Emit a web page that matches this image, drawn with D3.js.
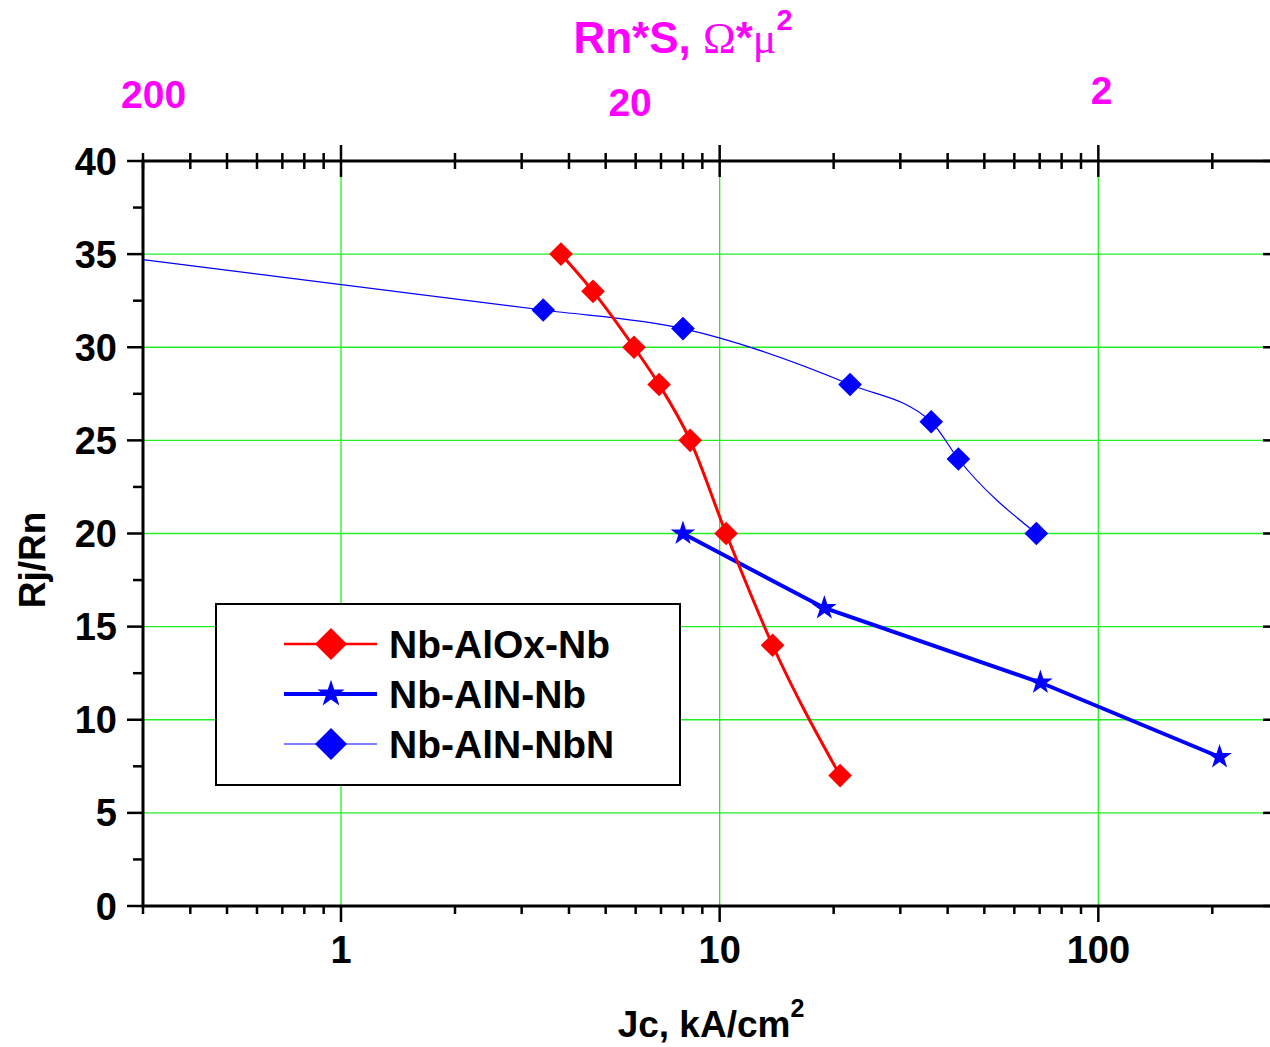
<!DOCTYPE html>
<html>
<head>
<meta charset="utf-8">
<script src="https://cdn.jsdelivr.net/npm/d3@7"></script>
<style>
  html, body { margin: 0; padding: 0; background: #fff; }
  svg { display: block; }
  text { font-family: "Liberation Sans", Arial, sans-serif; font-weight: bold; }
</style>
</head>
<body>
<svg id="chart" width="1270" height="1047"></svg>
<script>
// ---- data ----
const jcAlOx = [3.81, 4.63, 5.94, 6.92, 8.36, 10.4, 13.8, 20.8];
const rAlOx  = [35, 33, 30, 28, 25, 20, 14, 7];

const jcAlN  = [8.0, 18.9, 70.3, 209];
const rAlN   = [20, 16, 12, 8];

const jcNbN  = [3.42, 8.0, 22.1, 36.2, 42.7, 68.6];
const rNbN   = [32, 31, 28, 26, 24, 20];
// fitted line of Nb-AlN-NbN extends to the left edge of the plot
const jcNbNFitStart = [0.3];
const rNbNFitStart  = [34.7];

const xDomain = [0.3, 300];
const yDomain = [0, 40];
const yTickValues = [0, 5, 10, 15, 20, 25, 30, 35, 40];
const xTickLabels = [1, 10, 100];
const topTickLabels = ["200", "20", "2"];
const topTickAnchorsJc = [0.32, 5.8, 102]; // where the labels sit in the original
const legendLabels = ["Nb-AlOx-Nb", "Nb-AlN-Nb", "Nb-AlN-NbN"];

// ---- layout ----
const svg = d3.select("#chart");
const x = d3.scaleLog().domain(xDomain).range([143, 1279]);
const y = d3.scaleLinear().domain(yDomain).range([906, 161]);
const green = "#22ee22", red = "#ff0000", blue = "#0000ff", magenta = "#ff00ff";

const X0 = x.range()[0], X1 = x.range()[1];
const Y0 = y.range()[0], Y1 = y.range()[1];

// grid
const gridX = xTickLabels;
const gridY = yTickValues.filter(v => v > 0 && v < 40);
svg.append("g").selectAll("line.gx").data(gridX).join("line")
  .attr("x1", d => x(d)).attr("x2", d => x(d)).attr("y1", Y0).attr("y2", Y1)
  .attr("stroke", green).attr("stroke-width", 1.3);
svg.append("g").selectAll("line.gy").data(gridY).join("line")
  .attr("x1", X0).attr("x2", X1).attr("y1", d => y(d)).attr("y2", d => y(d))
  .attr("stroke", green).attr("stroke-width", 1.3);

// ticks
const allX = x.ticks().filter(v => v >= xDomain[0] - 1e-9 && v <= xDomain[1] + 1e-9);
const isMajorX = v => xTickLabels.some(m => Math.abs(m - v) < 1e-9);
const yMinor = d3.range(2.5, 40, 5);

const axes = svg.append("g").attr("stroke", "#000").attr("stroke-width", 2.5);
axes.selectAll("line.bt").data(allX).join("line")
  .attr("x1", d => x(d)).attr("x2", d => x(d))
  .attr("y1", Y0).attr("y2", d => Y0 + (isMajorX(d) ? 16 : 8));
axes.selectAll("line.tt").data(allX).join("line")
  .attr("x1", d => x(d)).attr("x2", d => x(d))
  .attr("y1", d => Y1 - (isMajorX(d) ? 16 : 8)).attr("y2", d => Y1 + (isMajorX(d) ? 16 : 8));
axes.selectAll("line.lt").data(yTickValues).join("line")
  .attr("x1", X0 - 16).attr("x2", X0).attr("y1", d => y(d)).attr("y2", d => y(d));
axes.selectAll("line.lmt").data(yMinor).join("line")
  .attr("x1", X0 - 10).attr("x2", X0).attr("y1", d => y(d)).attr("y2", d => y(d));
axes.selectAll("line.rt").data(yTickValues).join("line")
  .attr("x1", X1 - 16).attr("x2", X1).attr("y1", d => y(d)).attr("y2", d => y(d));
axes.selectAll("line.rmt").data(yMinor).join("line")
  .attr("x1", X1 - 9).attr("x2", X1).attr("y1", d => y(d)).attr("y2", d => y(d));

// frame
svg.append("rect").attr("x", X0).attr("y", Y1).attr("width", X1 - X0).attr("height", Y0 - Y1)
  .attr("fill", "none").attr("stroke", "#000").attr("stroke-width", 3);

// tick labels
svg.append("g").selectAll("text").data(yTickValues).join("text")
  .attr("x", 117).attr("y", d => y(d) + 13.5).attr("text-anchor", "end")
  .attr("font-size", 38).text(d => d);
svg.append("g").selectAll("text").data(xTickLabels).join("text")
  .attr("x", d => x(d)).attr("y", 963).attr("text-anchor", "middle")
  .attr("font-size", 38).text(d => d);
const topBaselines = [108, 116, 104];
svg.append("g").selectAll("text").data(topTickLabels).join("text")
  .attr("x", (d, i) => x(topTickAnchorsJc[i])).attr("y", (d, i) => topBaselines[i])
  .attr("text-anchor", "middle").attr("font-size", 39).attr("fill", magenta).text(d => d);

// axis titles
const xt = svg.append("text").attr("x", 711).attr("y", 1037).attr("text-anchor", "middle").attr("font-size", 37);
xt.append("tspan").text("Jc, kA/cm");
xt.append("tspan").attr("font-size", 25).attr("dy", -20).text("2");

svg.append("text").attr("transform", "translate(45,560) rotate(-90)")
  .attr("text-anchor", "middle").attr("font-size", 37).text("Rj/Rn");

const tt = svg.append("text").attr("x", 683).attr("y", 53).attr("text-anchor", "middle")
  .attr("font-size", 44).attr("fill", magenta);
tt.append("tspan").text("Rn*S, ");
tt.append("tspan").attr("font-family", "'Liberation Serif', 'Times New Roman', serif").attr("font-weight", "normal").text("Ω");
tt.append("tspan").text("*");
tt.append("tspan").attr("font-family", "'Liberation Serif', 'Times New Roman', serif").attr("font-weight", "normal").text("μ");
tt.append("tspan").attr("font-size", 29).attr("dy", -23).text("2");

// ---- series ----
const plot = svg.append("g");
const lineCurve = d3.line().x(d => x(d[0])).y(d => y(d[1])).curve(d3.curveMonotoneX);
const lineStraight = d3.line().x(d => x(d[0])).y(d => y(d[1]));

const alox = jcAlOx.map((v, i) => [v, rAlOx[i]]);
const aln = jcAlN.map((v, i) => [v, rAlN[i]]);
const nbn = jcNbN.map((v, i) => [v, rNbN[i]]);
const nbnLine = jcNbNFitStart.map((v, i) => [v, rNbNFitStart[i]]).concat(nbn);

plot.append("path").attr("d", lineCurve(nbnLine)).attr("fill", "none").attr("stroke", blue).attr("stroke-width", 1.2);
plot.append("path").attr("d", lineStraight(aln)).attr("fill", "none").attr("stroke", blue).attr("stroke-width", 4);
plot.append("path").attr("d", lineCurve(alox)).attr("fill", "none").attr("stroke", red).attr("stroke-width", 3);

const diamond = d3.symbol().type(d3.symbolSquare).size(280)();
const star = d3.symbol().type(d3.symbolStar).size(190)();

plot.selectAll("path.nbn").data(nbn).join("path")
  .attr("d", diamond).attr("fill", blue)
  .attr("transform", d => `translate(${x(d[0])},${y(d[1])}) rotate(45)`);
plot.selectAll("path.aln").data(aln).join("path")
  .attr("d", star).attr("fill", blue)
  .attr("transform", d => `translate(${x(d[0])},${y(d[1])})`);
plot.selectAll("path.alox").data(alox).join("path")
  .attr("d", diamond).attr("fill", red)
  .attr("transform", d => `translate(${x(d[0])},${y(d[1])}) rotate(45)`);

// ---- legend ----
const lg = svg.append("g");
lg.append("rect").attr("x", 216).attr("y", 604).attr("width", 464).attr("height", 181)
  .attr("fill", "#fff").attr("stroke", "#000").attr("stroke-width", 2);
const legendStyles = [
  { color: red, width: 2.5, sym: d3.symbol().type(d3.symbolSquare).size(512)(), rot: 45 },
  { color: blue, width: 4, sym: d3.symbol().type(d3.symbolStar).size(230)(), rot: 0 },
  { color: blue, width: 1.2, sym: d3.symbol().type(d3.symbolSquare).size(512)(), rot: 45 }
];
legendLabels.forEach((lab, i) => {
  const cy = 644 + i * 50;
  const s = legendStyles[i];
  lg.append("line").attr("x1", 284).attr("x2", 377).attr("y1", cy).attr("y2", cy)
    .attr("stroke", s.color).attr("stroke-width", s.width);
  lg.append("path").attr("d", s.sym).attr("fill", s.color)
    .attr("transform", `translate(331,${cy}) rotate(${s.rot})`);
  lg.append("text").attr("x", 389).attr("y", cy + 14).attr("font-size", 39).text(lab);
});
</script>
</body>
</html>
